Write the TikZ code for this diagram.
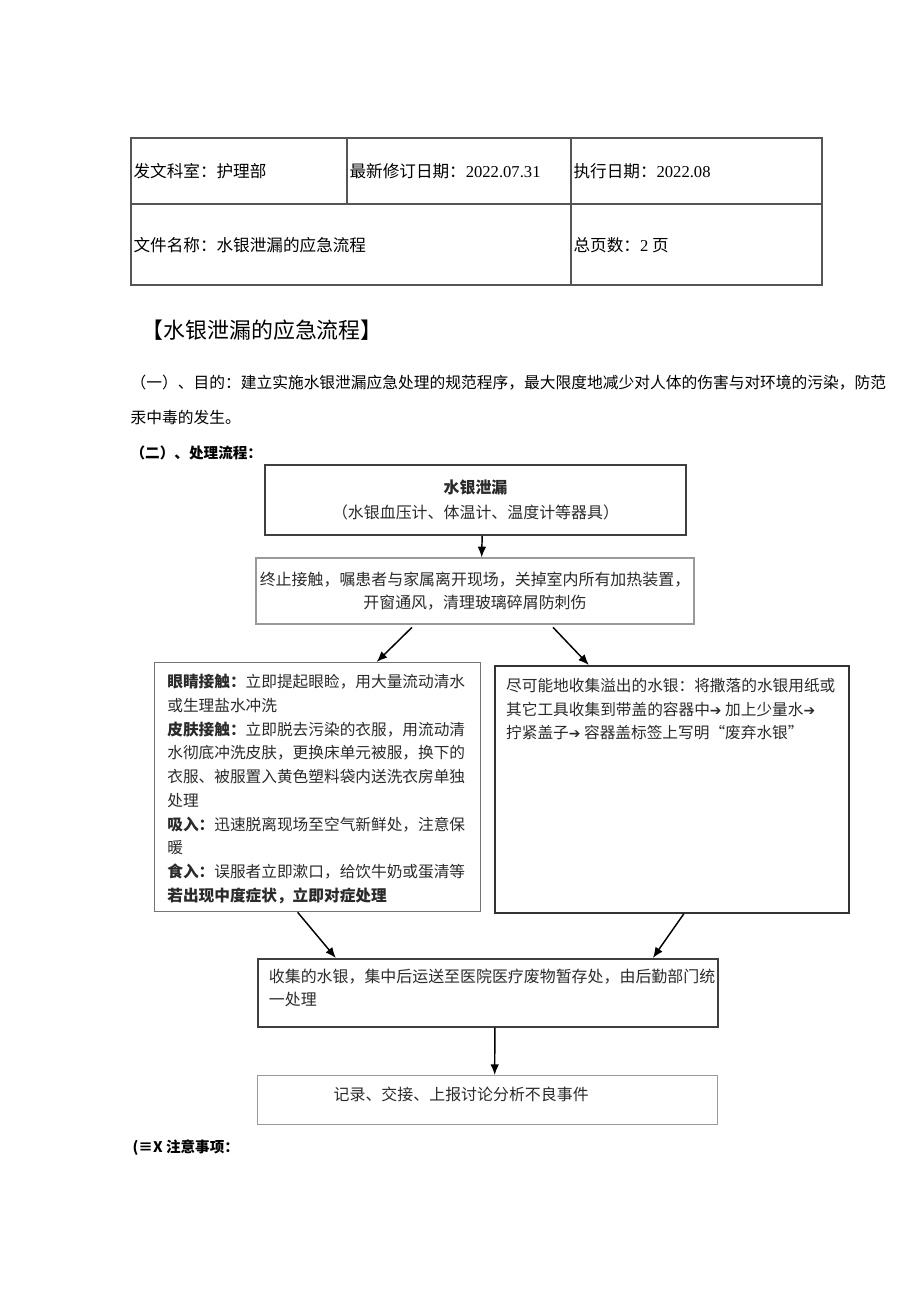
\documentclass[tikz,border=0pt]{standalone}
\usepackage{fontspec}
\setmainfont{Noto Sans CJK SC}
\newfontfamily\latin{Liberation Serif}
\newfontfamily\sym{DejaVu Sans}
\definecolor{frame}{HTML}{3F3F3F}
\definecolor{midframe}{HTML}{747474}
\definecolor{softframe}{HTML}{9A9A9A}
\definecolor{rule}{HTML}{555555}
\definecolor{ink}{HTML}{2A2A2A}
\usepackage{tikz}
\usetikzlibrary{arrows.meta}

\begin{document}
\begin{tikzpicture}[x=0.75bp,y=-0.75bp,>={Latex[length=8bp,width=6.5bp]},
  every node/.style={inner sep=1bp,text=ink},
  cell/.style={anchor=west,font=\fontsize{12.5}{15}\selectfont,text=black},
  para/.style={anchor=west,font=\fontsize{11.85}{15}\selectfont,text=black},
  box/.style={draw=frame,line width=1.3bp,rectangle},
  softbox/.style={draw=softframe,line width=1bp,rectangle},
  link/.style={->,line width=1.1bp,black}]
\useasboundingbox (0,0) rectangle (920,1301);
% header table
\draw[rule,line width=0.8bp] (131,138) rectangle (822,285);
\draw[rule,line width=0.8bp] (131,204) -- (822,204) (347,138) -- (347,204) (571,138) -- (571,285);
\node[cell] (dept) at (132,171) {发文科室：护理部};
\node[cell] (rev) at (348,171) {最新修订日期：{\latin 2022.07.31}};
\node[cell] (exec) at (572,171) {执行日期：{\latin 2022.08}};
\node[cell] (fname) at (132,245) {文件名称：水银泄漏的应急流程};
\node[cell] (pages) at (572,245) {总页数：{\latin 2} 页};
% heading and purpose
\node[anchor=west,font=\fontsize{16.5}{19}\selectfont,text=black] (title) at (140,330) {【水银泄漏的应急流程】};
\node[para] (aim1) at (129,383) {（一）、目的：建立实施水银泄漏应急处理的规范程序，最大限度地减少对人体的伤害与对环境的污染，防范};
\node[para] (aim2) at (129,418) {汞中毒的发生。};
\node[para,font=\fontsize{11}{14}\selectfont\bfseries] (steps) at (129,453) {（二）、处理流程：};
% flow
\node[box,minimum width=315.75bp,minimum height=52.5bp,align=center,font=\fontsize{12}{18.75}\selectfont] (spill) at (475.5,500)
  {\textbf{水银泄漏}\\（水银血压计、体温计、温度计等器具）};
\node[softbox,minimum width=328.5bp,minimum height=49.5bp,align=center,font=\fontsize{12}{17.25}\selectfont] (stop) at (475,591)
  {终止接触，嘱患者与家属离开现场，关掉室内所有加热装置，\\开窗通风，清理玻璃碎屑防刺伤};
\node[softbox,draw=midframe,anchor=north west,inner xsep=9.5bp,inner ysep=8.8bp,font=\fontsize{11.8}{17.85}\selectfont] (contact) at (154,662)
  {\parbox[t][169.15bp][t]{225.5bp}{\textbf{眼睛接触：}立即提起眼睑，用大量流动清水\\
  或生理盐水冲洗\\
  \textbf{皮肤接触：}立即脱去污染的衣服，用流动清\\
  水彻底冲洗皮肤，更换床单元被服，换下的\\
  衣服、被服置入黄色塑料袋内送洗衣房单独\\
  处理\\
  \textbf{吸入：}迅速脱离现场至空气新鲜处，注意保\\
  暖\\
  \textbf{食入：}误服者立即漱口，给饮牛奶或蛋清等\\
  \textbf{若出现中度症状，立即对症处理}}};
\node[box,draw=black!80,anchor=north west,inner xsep=8.5bp,inner ysep=9.6bp,font=\fontsize{11.8}{17.6}\selectfont] (collect) at (494,665)
  {\parbox[t][166.05bp][t]{248.5bp}{尽可能地收集溢出的水银：将撒落的水银用纸或\\
  其它工具收集到带盖的容器中{\sym\fontsize{10.5}{10}\selectfont ➔} 加上少量水{\sym\fontsize{10.5}{10}\selectfont ➔}\\
  拧紧盖子{\sym\fontsize{10.5}{10}\selectfont ➔} 容器盖标签上写明“废弃水银”}};
\node[box,anchor=north west,inner xsep=8.25bp,inner ysep=7.35bp,font=\fontsize{12}{17.25}\selectfont] (store) at (257,958)
  {\parbox[t][36.3bp][t]{328.5bp}{收集的水银，集中后运送至医院医疗废物暂存处，由后勤部门统\\一处理}};
\node[softbox,anchor=north west,inner xsep=57bp,inner ysep=8.1bp,font=\fontsize{12}{17.25}\selectfont] (report) at (257,1075)
  {\parbox[t][20.55bp][t]{231bp}{记录、交接、上报讨论分析不良事件}};
\draw[link] ([xshift=5bp]spill.south) -- ([xshift=5bp]stop.north);
\draw[link] ([xshift=-47.25bp,yshift=-2bp]stop.south) -- ([xshift=44.25bp]contact.north);
\draw[link] ([xshift=58.5bp,yshift=-2bp]stop.south) -- ([xshift=-62.25bp]collect.north);
\draw[link] ([xshift=-15bp]contact.south) -- ([xshift=-114bp]store.north);
\draw[link] ([xshift=9bp]collect.south) -- ([xshift=123.75bp]store.north);
\draw[link] ([xshift=5.25bp]store.south) -- ([xshift=5.25bp]report.north);
% notes heading
\node[para,font=\fontsize{11}{14}\selectfont\bfseries] (notes) at (131,1148) {(≡X 注意事项：};
\end{tikzpicture}
\end{document}
